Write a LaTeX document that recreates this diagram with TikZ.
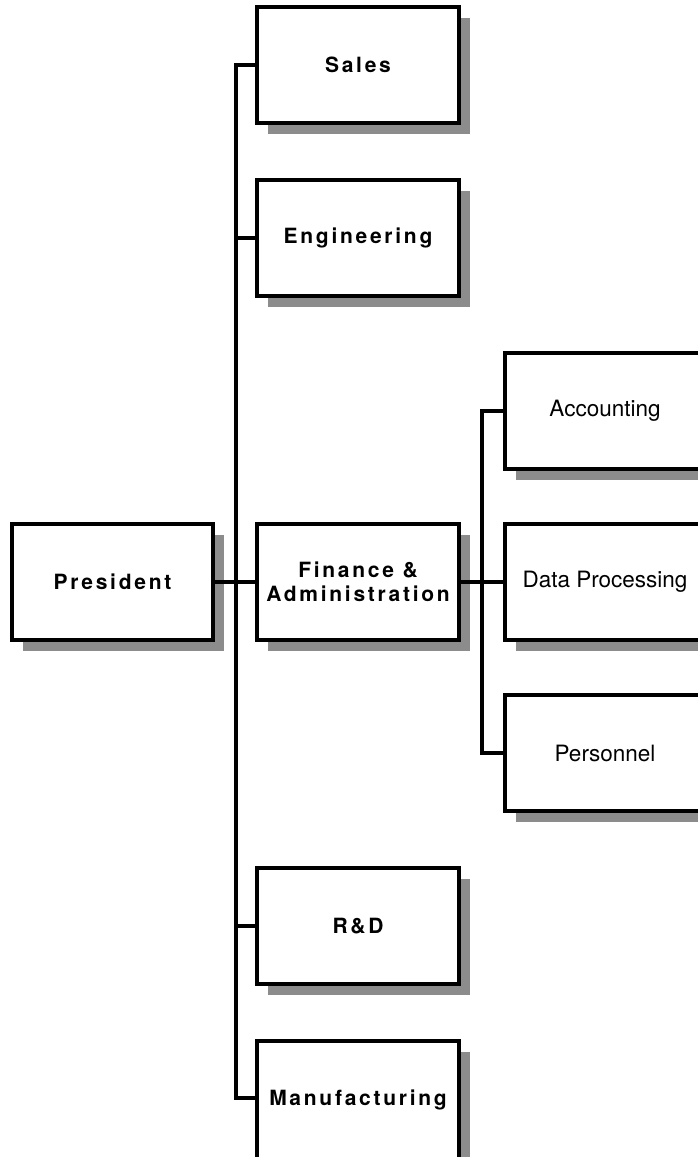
\documentclass[tikz,border=0pt]{standalone}
\usepackage{fontspec}
\newfontfamily\mainbf[LetterSpace=13]{TeX Gyre Heros}
\newfontfamily\subf{TeX Gyre Heros}
\usetikzlibrary{shadows}
\begin{document}
\begin{tikzpicture}[x=1pt,y=-1pt,
  box/.style={draw=black, line width=4pt, fill=white, rectangle, inner sep=0pt,
    minimum height=116pt,
    drop shadow={shadow xshift=11pt, shadow yshift=-11pt, fill=black!45, opacity=1}},
  mainbox/.style={box, minimum width=202pt, align=center,
    font=\mainbf\bfseries\fontsize{21}{24}\selectfont},
  subbox/.style={box, minimum width=200pt, font=\subf\fontsize{22.5}{26}\selectfont},
  conn/.style={line width=4pt, line join=miter, line cap=rect}]
\useasboundingbox (0,0) rectangle (698,1157);
\clip (0,0) rectangle (698,1157);
\fill[white] (0,0) rectangle (698,1157);
% main nodes
\node[mainbox] (sales) at (358,65) {Sales};
\node[mainbox] (eng) at (358,238) {Engineering};
\node[mainbox] (fin) at (358,582) {Finance \&\\Administration};
\node[mainbox] (rd) at (358,926) {R\&D};
\node[mainbox, minimum height=118pt] (mfg) at (358,1100) {Manufacturing};
\node[mainbox, minimum width=201pt] (pres) at (112.5,582) {President};
% sub nodes
\node[subbox] (acc) at (605,411) {Accounting};
\node[subbox] (dp) at (605,582) {Data Processing};
\node[subbox] (pers) at (605,753) {Personnel};
% trunk coordinates
\coordinate (t1) at (236,65);
\coordinate (t2) at (236,1098);
\coordinate (s1) at (482,411);
\coordinate (s2) at (482,753);
% connectors
\draw[conn] (sales.west) -- (t1) -- (t2) -- (t2 -| mfg.west);
\draw[conn] (eng.west) -- (eng.west -| t1);
\draw[conn] (rd.west) -- (rd.west -| t1);
\draw[conn] (pres.east) -- (fin.west);
\draw[conn] (acc.west) -- (s1) -- (s2) -- (pers.west);
\draw[conn] (fin.east) -- (dp.west);
\end{tikzpicture}
\end{document}
